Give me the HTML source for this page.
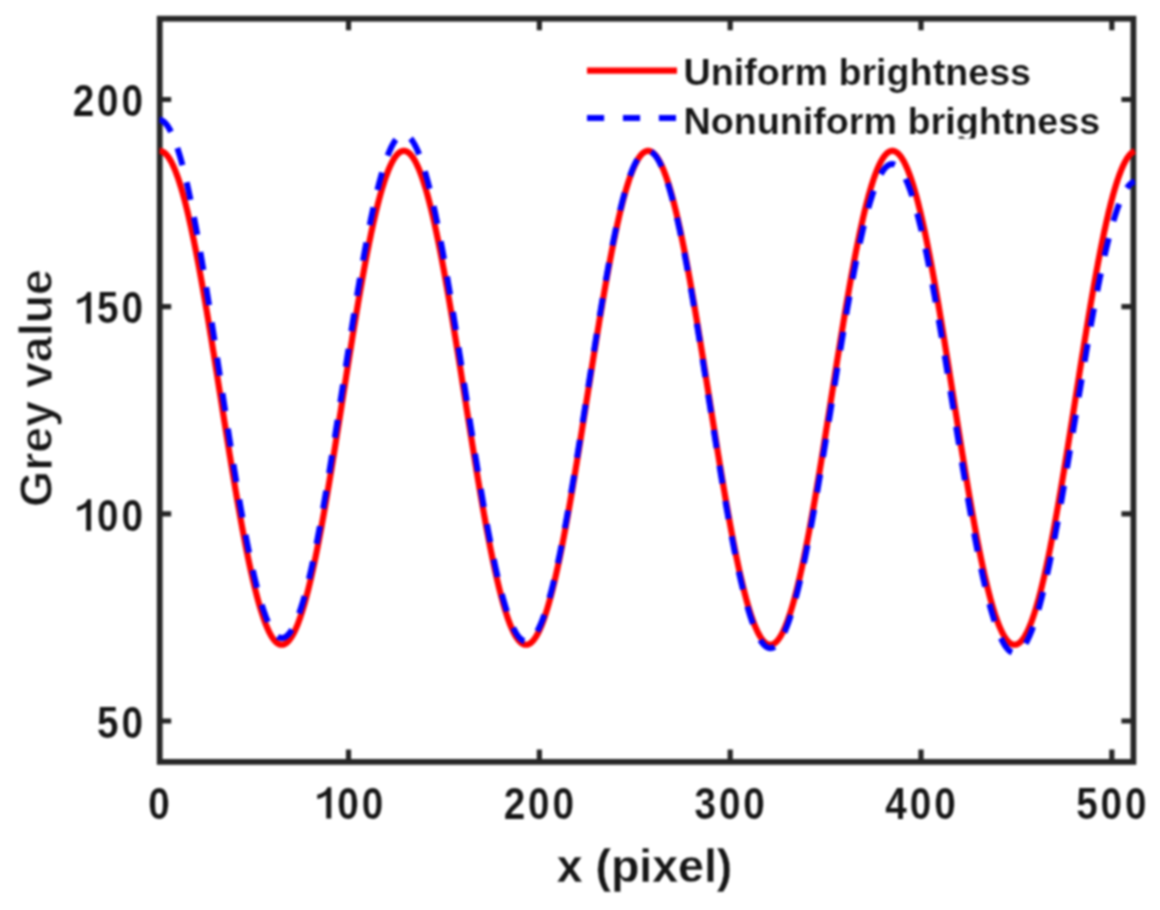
<!DOCTYPE html>
<html><head><meta charset="utf-8"><style>
html,body{margin:0;padding:0;background:#fff;}
body{width:1160px;height:910px;overflow:hidden;}
svg{display:block;}
text{font-family:"Liberation Sans",sans-serif;font-weight:bold;fill:#161616;stroke:#fff;paint-order:fill stroke;}
.tk text{stroke-width:0.15px;} .lb{stroke-width:0.3px;} .yl{stroke-width:0.9px;} .lg text{stroke-width:0.2px;}
</style></head><body>
<svg width="1160" height="910" viewBox="0 0 1160 910">
<defs><filter id="bl" x="0" y="0" width="1" height="1" color-interpolation-filters="sRGB"><feGaussianBlur stdDeviation="1.0"/></filter><clipPath id="lgclip"><rect x="600" y="95" width="560" height="43.5"/></clipPath></defs>
<g filter="url(#bl)">
<rect width="1160" height="910" fill="#fff"/>
<g stroke="#262626" fill="none">
<rect x="159.7" y="18.7" width="973.70" height="743.20" stroke-width="5.8"/>
<path d="M348.53,761.9V749.4M348.53,18.7V30.2M539.36,761.9V749.4M539.36,18.7V30.2M730.19,761.9V749.4M730.19,18.7V30.2M921.02,761.9V749.4M921.02,18.7V30.2M1111.85,761.9V749.4M1111.85,18.7V30.2M159.7,721.00H171.2M1133.4,721.00H1121.4M159.7,513.83H171.2M1133.4,513.83H1121.4M159.7,306.66H171.2M1133.4,306.66H1121.4M159.7,99.50H171.2M1133.4,99.50H1121.4" stroke-width="5.2"/>
</g>
<g class="tk" font-size="44">
<text transform="translate(148.14,818.60) scale(0.88,1)">0</text><path transform="translate(312.87,818.60)" d="M13.4,0H18.4V-31.4H14.6C13.6,-27.8 9.5,-25 4.4,-24V-19.6C8,-20.2 11,-21.6 13.4,-23.6Z" fill="#161616"/><text transform="translate(337.27,818.60) scale(0.88,1)">0</text><text transform="translate(361.67,818.60) scale(0.88,1)">0</text><text transform="translate(503.70,818.60) scale(0.88,1)">2</text><text transform="translate(528.10,818.60) scale(0.88,1)">0</text><text transform="translate(552.50,818.60) scale(0.88,1)">0</text><text transform="translate(694.53,818.60) scale(0.88,1)">3</text><text transform="translate(718.93,818.60) scale(0.88,1)">0</text><text transform="translate(743.33,818.60) scale(0.88,1)">0</text><text transform="translate(885.36,818.60) scale(0.88,1)">4</text><text transform="translate(909.76,818.60) scale(0.88,1)">0</text><text transform="translate(934.16,818.60) scale(0.88,1)">0</text><text transform="translate(1076.19,818.60) scale(0.88,1)">5</text><text transform="translate(1100.59,818.60) scale(0.88,1)">0</text><text transform="translate(1124.99,818.60) scale(0.88,1)">0</text>
<text transform="translate(97.10,737.79) scale(0.88,1)">5</text><text transform="translate(121.50,737.79) scale(0.88,1)">0</text><path transform="translate(72.70,530.63)" d="M13.4,0H18.4V-31.4H14.6C13.6,-27.8 9.5,-25 4.4,-24V-19.6C8,-20.2 11,-21.6 13.4,-23.6Z" fill="#161616"/><text transform="translate(97.10,530.63) scale(0.88,1)">0</text><text transform="translate(121.50,530.63) scale(0.88,1)">0</text><path transform="translate(72.70,323.46)" d="M13.4,0H18.4V-31.4H14.6C13.6,-27.8 9.5,-25 4.4,-24V-19.6C8,-20.2 11,-21.6 13.4,-23.6Z" fill="#161616"/><text transform="translate(97.10,323.46) scale(0.88,1)">5</text><text transform="translate(121.50,323.46) scale(0.88,1)">0</text><text transform="translate(72.70,116.30) scale(0.88,1)">2</text><text transform="translate(97.10,116.30) scale(0.88,1)">0</text><text transform="translate(121.50,116.30) scale(0.88,1)">0</text>
</g>
<text class="lb" x="644.5" y="881.5" font-size="46.5" text-anchor="middle">x (pixel)</text>
<text class="yl" transform="translate(51.5,388) rotate(-90)" font-size="46.5" text-anchor="middle">Grey value</text>
<path d="M159.61,150.88 L160.09,150.90 L160.56,150.95 L161.04,151.04 L161.52,151.17 L161.99,151.34 L162.47,151.55 L162.95,151.79 L163.42,152.07 L163.90,152.38 L164.38,152.73 L164.86,153.12 L165.33,153.55 L165.81,154.01 L166.29,154.51 L166.76,155.05 L167.24,155.62 L167.72,156.23 L168.20,156.88 L168.67,157.56 L169.15,158.28 L169.63,159.03 L170.10,159.82 L170.58,160.65 L171.06,161.51 L171.54,162.41 L172.01,163.34 L172.49,164.31 L172.97,165.31 L173.44,166.35 L173.92,167.42 L174.40,168.53 L174.87,169.67 L175.35,170.85 L175.83,172.06 L176.31,173.31 L176.78,174.59 L177.26,175.90 L177.74,177.24 L178.21,178.62 L178.69,180.04 L179.17,181.48 L179.65,182.96 L180.12,184.47 L180.60,186.01 L181.08,187.58 L181.55,189.19 L182.03,190.83 L182.51,192.49 L182.98,194.19 L183.46,195.92 L183.94,197.68 L184.42,199.47 L184.89,201.29 L185.37,203.14 L185.85,205.02 L186.32,206.93 L186.80,208.87 L187.28,210.83 L187.76,212.83 L188.23,214.85 L188.71,216.90 L189.19,218.97 L189.66,221.07 L190.14,223.20 L190.62,225.36 L191.10,227.54 L191.57,229.75 L192.05,231.98 L192.53,234.24 L193.00,236.52 L193.48,238.83 L193.96,241.16 L194.43,243.51 L194.91,245.89 L195.39,248.29 L195.87,250.72 L196.34,253.16 L196.82,255.63 L197.30,258.12 L197.77,260.62 L198.25,263.15 L198.73,265.70 L199.21,268.28 L199.68,270.86 L200.16,273.47 L200.64,276.10 L201.11,278.75 L201.59,281.41 L202.07,284.09 L202.55,286.79 L203.02,289.51 L203.50,292.24 L203.98,294.98 L204.45,297.75 L204.93,300.52 L205.41,303.32 L205.88,306.12 L206.36,308.94 L206.84,311.78 L207.32,314.63 L207.79,317.49 L208.27,320.36 L208.75,323.24 L209.22,326.13 L209.70,329.04 L210.18,331.96 L210.66,334.88 L211.13,337.82 L211.61,340.76 L212.09,343.71 L212.56,346.67 L213.04,349.64 L213.52,352.62 L213.99,355.60 L214.47,358.59 L214.95,361.58 L215.43,364.58 L215.90,367.59 L216.38,370.60 L216.86,373.61 L217.33,376.63 L217.81,379.65 L218.29,382.68 L218.77,385.70 L219.24,388.73 L219.72,391.76 L220.20,394.79 L220.67,397.82 L221.15,400.85 L221.63,403.88 L222.11,406.91 L222.58,409.93 L223.06,412.96 L223.54,415.98 L224.01,419.00 L224.49,422.02 L224.97,425.04 L225.44,428.05 L225.92,431.05 L226.40,434.05 L226.88,437.05 L227.35,440.04 L227.83,443.02 L228.31,445.99 L228.78,448.96 L229.26,451.92 L229.74,454.88 L230.22,457.82 L230.69,460.75 L231.17,463.68 L231.65,466.60 L232.12,469.50 L232.60,472.40 L233.08,475.28 L233.55,478.15 L234.03,481.01 L234.51,483.86 L234.99,486.69 L235.46,489.51 L235.94,492.32 L236.42,495.11 L236.89,497.89 L237.37,500.65 L237.85,503.40 L238.33,506.13 L238.80,508.84 L239.28,511.54 L239.76,514.22 L240.23,516.89 L240.71,519.53 L241.19,522.16 L241.67,524.77 L242.14,527.36 L242.62,529.93 L243.10,532.48 L243.57,535.01 L244.05,537.52 L244.53,540.01 L245.00,542.47 L245.48,544.92 L245.96,547.34 L246.44,549.74 L246.91,552.12 L247.39,554.48 L247.87,556.81 L248.34,559.11 L248.82,561.40 L249.30,563.65 L249.78,565.89 L250.25,568.09 L250.73,570.28 L251.21,572.43 L251.68,574.56 L252.16,576.66 L252.64,578.74 L253.12,580.79 L253.59,582.81 L254.07,584.80 L254.55,586.77 L255.02,588.71 L255.50,590.61 L255.98,592.49 L256.45,594.34 L256.93,596.16 L257.41,597.95 L257.89,599.71 L258.36,601.44 L258.84,603.14 L259.32,604.81 L259.79,606.45 L260.27,608.05 L260.75,609.63 L261.23,611.17 L261.70,612.68 L262.18,614.15 L262.66,615.60 L263.13,617.01 L263.61,618.39 L264.09,619.74 L264.56,621.05 L265.04,622.33 L265.52,623.57 L266.00,624.78 L266.47,625.96 L266.95,627.10 L267.43,628.21 L267.90,629.28 L268.38,630.32 L268.86,631.33 L269.34,632.29 L269.81,633.23 L270.29,634.13 L270.77,634.99 L271.24,635.81 L271.72,636.60 L272.20,637.36 L272.68,638.08 L273.15,638.76 L273.63,639.40 L274.11,640.01 L274.58,640.59 L275.06,641.12 L275.54,641.62 L276.01,642.09 L276.49,642.51 L276.97,642.90 L277.45,643.25 L277.92,643.57 L278.40,643.85 L278.88,644.09 L279.35,644.29 L279.83,644.46 L280.31,644.59 L280.79,644.68 L281.26,644.74 L281.74,644.76 L282.22,644.74 L282.69,644.68 L283.17,644.59 L283.65,644.46 L284.12,644.29 L284.60,644.09 L285.08,643.85 L285.56,643.57 L286.03,643.25 L286.51,642.90 L286.99,642.51 L287.46,642.09 L287.94,641.62 L288.42,641.12 L288.90,640.59 L289.37,640.01 L289.85,639.40 L290.33,638.76 L290.80,638.08 L291.28,637.36 L291.76,636.60 L292.24,635.81 L292.71,634.99 L293.19,634.13 L293.67,633.23 L294.14,632.29 L294.62,631.33 L295.10,630.32 L295.57,629.28 L296.05,628.21 L296.53,627.10 L297.01,625.96 L297.48,624.78 L297.96,623.57 L298.44,622.33 L298.91,621.05 L299.39,619.74 L299.87,618.39 L300.35,617.01 L300.82,615.60 L301.30,614.15 L301.78,612.68 L302.25,611.17 L302.73,609.63 L303.21,608.05 L303.68,606.45 L304.16,604.81 L304.64,603.14 L305.12,601.44 L305.59,599.71 L306.07,597.95 L306.55,596.16 L307.02,594.34 L307.50,592.49 L307.98,590.61 L308.46,588.71 L308.93,586.77 L309.41,584.80 L309.89,582.81 L310.36,580.79 L310.84,578.74 L311.32,576.66 L311.80,574.56 L312.27,572.43 L312.75,570.28 L313.23,568.09 L313.70,565.89 L314.18,563.65 L314.66,561.40 L315.13,559.11 L315.61,556.81 L316.09,554.48 L316.57,552.12 L317.04,549.74 L317.52,547.34 L318.00,544.92 L318.47,542.47 L318.95,540.01 L319.43,537.52 L319.91,535.01 L320.38,532.48 L320.86,529.93 L321.34,527.36 L321.81,524.77 L322.29,522.16 L322.77,519.53 L323.25,516.89 L323.72,514.22 L324.20,511.54 L324.68,508.84 L325.15,506.13 L325.63,503.40 L326.11,500.65 L326.58,497.89 L327.06,495.11 L327.54,492.32 L328.02,489.51 L328.49,486.69 L328.97,483.86 L329.45,481.01 L329.92,478.15 L330.40,475.28 L330.88,472.40 L331.36,469.50 L331.83,466.60 L332.31,463.68 L332.79,460.75 L333.26,457.82 L333.74,454.88 L334.22,451.92 L334.69,448.96 L335.17,445.99 L335.65,443.02 L336.13,440.04 L336.60,437.05 L337.08,434.05 L337.56,431.05 L338.03,428.05 L338.51,425.04 L338.99,422.02 L339.47,419.00 L339.94,415.98 L340.42,412.96 L340.90,409.93 L341.37,406.91 L341.85,403.88 L342.33,400.85 L342.81,397.82 L343.28,394.79 L343.76,391.76 L344.24,388.73 L344.71,385.70 L345.19,382.68 L345.67,379.65 L346.14,376.63 L346.62,373.61 L347.10,370.60 L347.58,367.59 L348.05,364.58 L348.53,361.58 L349.01,358.59 L349.48,355.60 L349.96,352.62 L350.44,349.64 L350.92,346.67 L351.39,343.71 L351.87,340.76 L352.35,337.82 L352.82,334.88 L353.30,331.96 L353.78,329.04 L354.25,326.13 L354.73,323.24 L355.21,320.36 L355.69,317.49 L356.16,314.63 L356.64,311.78 L357.12,308.94 L357.59,306.12 L358.07,303.32 L358.55,300.52 L359.03,297.75 L359.50,294.98 L359.98,292.24 L360.46,289.51 L360.93,286.79 L361.41,284.09 L361.89,281.41 L362.37,278.75 L362.84,276.10 L363.32,273.47 L363.80,270.86 L364.27,268.28 L364.75,265.70 L365.23,263.15 L365.70,260.62 L366.18,258.12 L366.66,255.63 L367.14,253.16 L367.61,250.72 L368.09,248.29 L368.57,245.89 L369.04,243.51 L369.52,241.16 L370.00,238.83 L370.48,236.52 L370.95,234.24 L371.43,231.98 L371.91,229.75 L372.38,227.54 L372.86,225.36 L373.34,223.20 L373.81,221.07 L374.29,218.97 L374.77,216.90 L375.25,214.85 L375.72,212.83 L376.20,210.83 L376.68,208.87 L377.15,206.93 L377.63,205.02 L378.11,203.14 L378.59,201.29 L379.06,199.47 L379.54,197.68 L380.02,195.92 L380.49,194.19 L380.97,192.49 L381.45,190.83 L381.93,189.19 L382.40,187.58 L382.88,186.01 L383.36,184.47 L383.83,182.96 L384.31,181.48 L384.79,180.04 L385.26,178.62 L385.74,177.24 L386.22,175.90 L386.70,174.59 L387.17,173.31 L387.65,172.06 L388.13,170.85 L388.60,169.67 L389.08,168.53 L389.56,167.42 L390.04,166.35 L390.51,165.31 L390.99,164.31 L391.47,163.34 L391.94,162.41 L392.42,161.51 L392.90,160.65 L393.38,159.82 L393.85,159.03 L394.33,158.28 L394.81,157.56 L395.28,156.88 L395.76,156.23 L396.24,155.62 L396.71,155.05 L397.19,154.51 L397.67,154.01 L398.15,153.55 L398.62,153.12 L399.10,152.73 L399.58,152.38 L400.05,152.07 L400.53,151.79 L401.01,151.55 L401.49,151.34 L401.96,151.17 L402.44,151.04 L402.92,150.95 L403.39,150.90 L403.87,150.88 L404.35,150.90 L404.82,150.95 L405.30,151.04 L405.78,151.17 L406.26,151.34 L406.73,151.55 L407.21,151.79 L407.69,152.07 L408.16,152.38 L408.64,152.73 L409.12,153.12 L409.60,153.55 L410.07,154.01 L410.55,154.51 L411.03,155.05 L411.50,155.62 L411.98,156.23 L412.46,156.88 L412.94,157.56 L413.41,158.28 L413.89,159.03 L414.37,159.82 L414.84,160.65 L415.32,161.51 L415.80,162.41 L416.27,163.34 L416.75,164.31 L417.23,165.31 L417.71,166.35 L418.18,167.42 L418.66,168.53 L419.14,169.67 L419.61,170.85 L420.09,172.06 L420.57,173.31 L421.05,174.59 L421.52,175.90 L422.00,177.24 L422.48,178.62 L422.95,180.04 L423.43,181.48 L423.91,182.96 L424.38,184.47 L424.86,186.01 L425.34,187.58 L425.82,189.19 L426.29,190.83 L426.77,192.49 L427.25,194.19 L427.72,195.92 L428.20,197.68 L428.68,199.47 L429.16,201.29 L429.63,203.14 L430.11,205.02 L430.59,206.93 L431.06,208.87 L431.54,210.83 L432.02,212.83 L432.50,214.85 L432.97,216.90 L433.45,218.97 L433.93,221.07 L434.40,223.20 L434.88,225.36 L435.36,227.54 L435.83,229.75 L436.31,231.98 L436.79,234.24 L437.27,236.52 L437.74,238.83 L438.22,241.16 L438.70,243.51 L439.17,245.89 L439.65,248.29 L440.13,250.72 L440.61,253.16 L441.08,255.63 L441.56,258.12 L442.04,260.62 L442.51,263.15 L442.99,265.70 L443.47,268.28 L443.94,270.86 L444.42,273.47 L444.90,276.10 L445.38,278.75 L445.85,281.41 L446.33,284.09 L446.81,286.79 L447.28,289.51 L447.76,292.24 L448.24,294.98 L448.72,297.75 L449.19,300.52 L449.67,303.32 L450.15,306.12 L450.62,308.94 L451.10,311.78 L451.58,314.63 L452.06,317.49 L452.53,320.36 L453.01,323.24 L453.49,326.13 L453.96,329.04 L454.44,331.96 L454.92,334.88 L455.39,337.82 L455.87,340.76 L456.35,343.71 L456.83,346.67 L457.30,349.64 L457.78,352.62 L458.26,355.60 L458.73,358.59 L459.21,361.58 L459.69,364.58 L460.17,367.59 L460.64,370.60 L461.12,373.61 L461.60,376.63 L462.07,379.65 L462.55,382.68 L463.03,385.70 L463.51,388.73 L463.98,391.76 L464.46,394.79 L464.94,397.82 L465.41,400.85 L465.89,403.88 L466.37,406.91 L466.84,409.93 L467.32,412.96 L467.80,415.98 L468.28,419.00 L468.75,422.02 L469.23,425.04 L469.71,428.05 L470.18,431.05 L470.66,434.05 L471.14,437.05 L471.62,440.04 L472.09,443.02 L472.57,445.99 L473.05,448.96 L473.52,451.92 L474.00,454.88 L474.48,457.82 L474.95,460.75 L475.43,463.68 L475.91,466.60 L476.39,469.50 L476.86,472.40 L477.34,475.28 L477.82,478.15 L478.29,481.01 L478.77,483.86 L479.25,486.69 L479.73,489.51 L480.20,492.32 L480.68,495.11 L481.16,497.89 L481.63,500.65 L482.11,503.40 L482.59,506.13 L483.07,508.84 L483.54,511.54 L484.02,514.22 L484.50,516.89 L484.97,519.53 L485.45,522.16 L485.93,524.77 L486.40,527.36 L486.88,529.93 L487.36,532.48 L487.84,535.01 L488.31,537.52 L488.79,540.01 L489.27,542.47 L489.74,544.92 L490.22,547.34 L490.70,549.74 L491.18,552.12 L491.65,554.48 L492.13,556.81 L492.61,559.11 L493.08,561.40 L493.56,563.65 L494.04,565.89 L494.51,568.09 L494.99,570.28 L495.47,572.43 L495.95,574.56 L496.42,576.66 L496.90,578.74 L497.38,580.79 L497.85,582.81 L498.33,584.80 L498.81,586.77 L499.29,588.71 L499.76,590.61 L500.24,592.49 L500.72,594.34 L501.19,596.16 L501.67,597.95 L502.15,599.71 L502.63,601.44 L503.10,603.14 L503.58,604.81 L504.06,606.45 L504.53,608.05 L505.01,609.63 L505.49,611.17 L505.96,612.68 L506.44,614.15 L506.92,615.60 L507.40,617.01 L507.87,618.39 L508.35,619.74 L508.83,621.05 L509.30,622.33 L509.78,623.57 L510.26,624.78 L510.74,625.96 L511.21,627.10 L511.69,628.21 L512.17,629.28 L512.64,630.32 L513.12,631.33 L513.60,632.29 L514.08,633.23 L514.55,634.13 L515.03,634.99 L515.51,635.81 L515.98,636.60 L516.46,637.36 L516.94,638.08 L517.41,638.76 L517.89,639.40 L518.37,640.01 L518.85,640.59 L519.32,641.12 L519.80,641.62 L520.28,642.09 L520.75,642.51 L521.23,642.90 L521.71,643.25 L522.19,643.57 L522.66,643.85 L523.14,644.09 L523.62,644.29 L524.09,644.46 L524.57,644.59 L525.05,644.68 L525.52,644.74 L526.00,644.76 L526.48,644.74 L526.96,644.68 L527.43,644.59 L527.91,644.46 L528.39,644.29 L528.86,644.09 L529.34,643.85 L529.82,643.57 L530.30,643.25 L530.77,642.90 L531.25,642.51 L531.73,642.09 L532.20,641.62 L532.68,641.12 L533.16,640.59 L533.64,640.01 L534.11,639.40 L534.59,638.76 L535.07,638.08 L535.54,637.36 L536.02,636.60 L536.50,635.81 L536.97,634.99 L537.45,634.13 L537.93,633.23 L538.41,632.29 L538.88,631.33 L539.36,630.32 L539.84,629.28 L540.31,628.21 L540.79,627.10 L541.27,625.96 L541.75,624.78 L542.22,623.57 L542.70,622.33 L543.18,621.05 L543.65,619.74 L544.13,618.39 L544.61,617.01 L545.08,615.60 L545.56,614.15 L546.04,612.68 L546.52,611.17 L546.99,609.63 L547.47,608.05 L547.95,606.45 L548.42,604.81 L548.90,603.14 L549.38,601.44 L549.86,599.71 L550.33,597.95 L550.81,596.16 L551.29,594.34 L551.76,592.49 L552.24,590.61 L552.72,588.71 L553.20,586.77 L553.67,584.80 L554.15,582.81 L554.63,580.79 L555.10,578.74 L555.58,576.66 L556.06,574.56 L556.53,572.43 L557.01,570.28 L557.49,568.09 L557.97,565.89 L558.44,563.65 L558.92,561.40 L559.40,559.11 L559.87,556.81 L560.35,554.48 L560.83,552.12 L561.31,549.74 L561.78,547.34 L562.26,544.92 L562.74,542.47 L563.21,540.01 L563.69,537.52 L564.17,535.01 L564.64,532.48 L565.12,529.93 L565.60,527.36 L566.08,524.77 L566.55,522.16 L567.03,519.53 L567.51,516.89 L567.98,514.22 L568.46,511.54 L568.94,508.84 L569.42,506.13 L569.89,503.40 L570.37,500.65 L570.85,497.89 L571.32,495.11 L571.80,492.32 L572.28,489.51 L572.76,486.69 L573.23,483.86 L573.71,481.01 L574.19,478.15 L574.66,475.28 L575.14,472.40 L575.62,469.50 L576.09,466.60 L576.57,463.68 L577.05,460.75 L577.53,457.82 L578.00,454.88 L578.48,451.92 L578.96,448.96 L579.43,445.99 L579.91,443.02 L580.39,440.04 L580.87,437.05 L581.34,434.05 L581.82,431.05 L582.30,428.05 L582.77,425.04 L583.25,422.02 L583.73,419.00 L584.21,415.98 L584.68,412.96 L585.16,409.93 L585.64,406.91 L586.11,403.88 L586.59,400.85 L587.07,397.82 L587.54,394.79 L588.02,391.76 L588.50,388.73 L588.98,385.70 L589.45,382.68 L589.93,379.65 L590.41,376.63 L590.88,373.61 L591.36,370.60 L591.84,367.59 L592.32,364.58 L592.79,361.58 L593.27,358.59 L593.75,355.60 L594.22,352.62 L594.70,349.64 L595.18,346.67 L595.65,343.71 L596.13,340.76 L596.61,337.82 L597.09,334.88 L597.56,331.96 L598.04,329.04 L598.52,326.13 L598.99,323.24 L599.47,320.36 L599.95,317.49 L600.43,314.63 L600.90,311.78 L601.38,308.94 L601.86,306.12 L602.33,303.32 L602.81,300.52 L603.29,297.75 L603.77,294.98 L604.24,292.24 L604.72,289.51 L605.20,286.79 L605.67,284.09 L606.15,281.41 L606.63,278.75 L607.10,276.10 L607.58,273.47 L608.06,270.86 L608.54,268.28 L609.01,265.70 L609.49,263.15 L609.97,260.62 L610.44,258.12 L610.92,255.63 L611.40,253.16 L611.88,250.72 L612.35,248.29 L612.83,245.89 L613.31,243.51 L613.78,241.16 L614.26,238.83 L614.74,236.52 L615.21,234.24 L615.69,231.98 L616.17,229.75 L616.65,227.54 L617.12,225.36 L617.60,223.20 L618.08,221.07 L618.55,218.97 L619.03,216.90 L619.51,214.85 L619.99,212.83 L620.46,210.83 L620.94,208.87 L621.42,206.93 L621.89,205.02 L622.37,203.14 L622.85,201.29 L623.33,199.47 L623.80,197.68 L624.28,195.92 L624.76,194.19 L625.23,192.49 L625.71,190.83 L626.19,189.19 L626.66,187.58 L627.14,186.01 L627.62,184.47 L628.10,182.96 L628.57,181.48 L629.05,180.04 L629.53,178.62 L630.00,177.24 L630.48,175.90 L630.96,174.59 L631.44,173.31 L631.91,172.06 L632.39,170.85 L632.87,169.67 L633.34,168.53 L633.82,167.42 L634.30,166.35 L634.78,165.31 L635.25,164.31 L635.73,163.34 L636.21,162.41 L636.68,161.51 L637.16,160.65 L637.64,159.82 L638.11,159.03 L638.59,158.28 L639.07,157.56 L639.55,156.88 L640.02,156.23 L640.50,155.62 L640.98,155.05 L641.45,154.51 L641.93,154.01 L642.41,153.55 L642.89,153.12 L643.36,152.73 L643.84,152.38 L644.32,152.07 L644.79,151.79 L645.27,151.55 L645.75,151.34 L646.22,151.17 L646.70,151.04 L647.18,150.95 L647.66,150.90 L648.13,150.88 L648.61,150.90 L649.09,150.95 L649.56,151.04 L650.04,151.17 L650.52,151.34 L651.00,151.55 L651.47,151.79 L651.95,152.07 L652.43,152.38 L652.90,152.73 L653.38,153.12 L653.86,153.55 L654.34,154.01 L654.81,154.51 L655.29,155.05 L655.77,155.62 L656.24,156.23 L656.72,156.88 L657.20,157.56 L657.67,158.28 L658.15,159.03 L658.63,159.82 L659.11,160.65 L659.58,161.51 L660.06,162.41 L660.54,163.34 L661.01,164.31 L661.49,165.31 L661.97,166.35 L662.45,167.42 L662.92,168.53 L663.40,169.67 L663.88,170.85 L664.35,172.06 L664.83,173.31 L665.31,174.59 L665.78,175.90 L666.26,177.24 L666.74,178.62 L667.22,180.04 L667.69,181.48 L668.17,182.96 L668.65,184.47 L669.12,186.01 L669.60,187.58 L670.08,189.19 L670.56,190.83 L671.03,192.49 L671.51,194.19 L671.99,195.92 L672.46,197.68 L672.94,199.47 L673.42,201.29 L673.90,203.14 L674.37,205.02 L674.85,206.93 L675.33,208.87 L675.80,210.83 L676.28,212.83 L676.76,214.85 L677.23,216.90 L677.71,218.97 L678.19,221.07 L678.67,223.20 L679.14,225.36 L679.62,227.54 L680.10,229.75 L680.57,231.98 L681.05,234.24 L681.53,236.52 L682.01,238.83 L682.48,241.16 L682.96,243.51 L683.44,245.89 L683.91,248.29 L684.39,250.72 L684.87,253.16 L685.34,255.63 L685.82,258.12 L686.30,260.62 L686.78,263.15 L687.25,265.70 L687.73,268.28 L688.21,270.86 L688.68,273.47 L689.16,276.10 L689.64,278.75 L690.12,281.41 L690.59,284.09 L691.07,286.79 L691.55,289.51 L692.02,292.24 L692.50,294.98 L692.98,297.75 L693.46,300.52 L693.93,303.32 L694.41,306.12 L694.89,308.94 L695.36,311.78 L695.84,314.63 L696.32,317.49 L696.79,320.36 L697.27,323.24 L697.75,326.13 L698.23,329.04 L698.70,331.96 L699.18,334.88 L699.66,337.82 L700.13,340.76 L700.61,343.71 L701.09,346.67 L701.57,349.64 L702.04,352.62 L702.52,355.60 L703.00,358.59 L703.47,361.58 L703.95,364.58 L704.43,367.59 L704.91,370.60 L705.38,373.61 L705.86,376.63 L706.34,379.65 L706.81,382.68 L707.29,385.70 L707.77,388.73 L708.24,391.76 L708.72,394.79 L709.20,397.82 L709.68,400.85 L710.15,403.88 L710.63,406.91 L711.11,409.93 L711.58,412.96 L712.06,415.98 L712.54,419.00 L713.02,422.02 L713.49,425.04 L713.97,428.05 L714.45,431.05 L714.92,434.05 L715.40,437.05 L715.88,440.04 L716.35,443.02 L716.83,445.99 L717.31,448.96 L717.79,451.92 L718.26,454.88 L718.74,457.82 L719.22,460.75 L719.69,463.68 L720.17,466.60 L720.65,469.50 L721.13,472.40 L721.60,475.28 L722.08,478.15 L722.56,481.01 L723.03,483.86 L723.51,486.69 L723.99,489.51 L724.47,492.32 L724.94,495.11 L725.42,497.89 L725.90,500.65 L726.37,503.40 L726.85,506.13 L727.33,508.84 L727.80,511.54 L728.28,514.22 L728.76,516.89 L729.24,519.53 L729.71,522.16 L730.19,524.77 L730.67,527.36 L731.14,529.93 L731.62,532.48 L732.10,535.01 L732.58,537.52 L733.05,540.01 L733.53,542.47 L734.01,544.92 L734.48,547.34 L734.96,549.74 L735.44,552.12 L735.91,554.48 L736.39,556.81 L736.87,559.11 L737.35,561.40 L737.82,563.65 L738.30,565.89 L738.78,568.09 L739.25,570.28 L739.73,572.43 L740.21,574.56 L740.69,576.66 L741.16,578.74 L741.64,580.79 L742.12,582.81 L742.59,584.80 L743.07,586.77 L743.55,588.71 L744.03,590.61 L744.50,592.49 L744.98,594.34 L745.46,596.16 L745.93,597.95 L746.41,599.71 L746.89,601.44 L747.36,603.14 L747.84,604.81 L748.32,606.45 L748.80,608.05 L749.27,609.63 L749.75,611.17 L750.23,612.68 L750.70,614.15 L751.18,615.60 L751.66,617.01 L752.14,618.39 L752.61,619.74 L753.09,621.05 L753.57,622.33 L754.04,623.57 L754.52,624.78 L755.00,625.96 L755.47,627.10 L755.95,628.21 L756.43,629.28 L756.91,630.32 L757.38,631.33 L757.86,632.29 L758.34,633.23 L758.81,634.13 L759.29,634.99 L759.77,635.81 L760.25,636.60 L760.72,637.36 L761.20,638.08 L761.68,638.76 L762.15,639.40 L762.63,640.01 L763.11,640.59 L763.59,641.12 L764.06,641.62 L764.54,642.09 L765.02,642.51 L765.49,642.90 L765.97,643.25 L766.45,643.57 L766.92,643.85 L767.40,644.09 L767.88,644.29 L768.36,644.46 L768.83,644.59 L769.31,644.68 L769.79,644.74 L770.26,644.76 L770.74,644.74 L771.22,644.68 L771.70,644.59 L772.17,644.46 L772.65,644.29 L773.13,644.09 L773.60,643.85 L774.08,643.57 L774.56,643.25 L775.04,642.90 L775.51,642.51 L775.99,642.09 L776.47,641.62 L776.94,641.12 L777.42,640.59 L777.90,640.01 L778.37,639.40 L778.85,638.76 L779.33,638.08 L779.81,637.36 L780.28,636.60 L780.76,635.81 L781.24,634.99 L781.71,634.13 L782.19,633.23 L782.67,632.29 L783.15,631.33 L783.62,630.32 L784.10,629.28 L784.58,628.21 L785.05,627.10 L785.53,625.96 L786.01,624.78 L786.48,623.57 L786.96,622.33 L787.44,621.05 L787.92,619.74 L788.39,618.39 L788.87,617.01 L789.35,615.60 L789.82,614.15 L790.30,612.68 L790.78,611.17 L791.26,609.63 L791.73,608.05 L792.21,606.45 L792.69,604.81 L793.16,603.14 L793.64,601.44 L794.12,599.71 L794.60,597.95 L795.07,596.16 L795.55,594.34 L796.03,592.49 L796.50,590.61 L796.98,588.71 L797.46,586.77 L797.93,584.80 L798.41,582.81 L798.89,580.79 L799.37,578.74 L799.84,576.66 L800.32,574.56 L800.80,572.43 L801.27,570.28 L801.75,568.09 L802.23,565.89 L802.71,563.65 L803.18,561.40 L803.66,559.11 L804.14,556.81 L804.61,554.48 L805.09,552.12 L805.57,549.74 L806.04,547.34 L806.52,544.92 L807.00,542.47 L807.48,540.01 L807.95,537.52 L808.43,535.01 L808.91,532.48 L809.38,529.93 L809.86,527.36 L810.34,524.77 L810.82,522.16 L811.29,519.53 L811.77,516.89 L812.25,514.22 L812.72,511.54 L813.20,508.84 L813.68,506.13 L814.16,503.40 L814.63,500.65 L815.11,497.89 L815.59,495.11 L816.06,492.32 L816.54,489.51 L817.02,486.69 L817.49,483.86 L817.97,481.01 L818.45,478.15 L818.93,475.28 L819.40,472.40 L819.88,469.50 L820.36,466.60 L820.83,463.68 L821.31,460.75 L821.79,457.82 L822.27,454.88 L822.74,451.92 L823.22,448.96 L823.70,445.99 L824.17,443.02 L824.65,440.04 L825.13,437.05 L825.61,434.05 L826.08,431.05 L826.56,428.05 L827.04,425.04 L827.51,422.02 L827.99,419.00 L828.47,415.98 L828.94,412.96 L829.42,409.93 L829.90,406.91 L830.38,403.88 L830.85,400.85 L831.33,397.82 L831.81,394.79 L832.28,391.76 L832.76,388.73 L833.24,385.70 L833.72,382.68 L834.19,379.65 L834.67,376.63 L835.15,373.61 L835.62,370.60 L836.10,367.59 L836.58,364.58 L837.05,361.58 L837.53,358.59 L838.01,355.60 L838.49,352.62 L838.96,349.64 L839.44,346.67 L839.92,343.71 L840.39,340.76 L840.87,337.82 L841.35,334.88 L841.83,331.96 L842.30,329.04 L842.78,326.13 L843.26,323.24 L843.73,320.36 L844.21,317.49 L844.69,314.63 L845.17,311.78 L845.64,308.94 L846.12,306.12 L846.60,303.32 L847.07,300.52 L847.55,297.75 L848.03,294.98 L848.50,292.24 L848.98,289.51 L849.46,286.79 L849.94,284.09 L850.41,281.41 L850.89,278.75 L851.37,276.10 L851.84,273.47 L852.32,270.86 L852.80,268.28 L853.28,265.70 L853.75,263.15 L854.23,260.62 L854.71,258.12 L855.18,255.63 L855.66,253.16 L856.14,250.72 L856.61,248.29 L857.09,245.89 L857.57,243.51 L858.05,241.16 L858.52,238.83 L859.00,236.52 L859.48,234.24 L859.95,231.98 L860.43,229.75 L860.91,227.54 L861.39,225.36 L861.86,223.20 L862.34,221.07 L862.82,218.97 L863.29,216.90 L863.77,214.85 L864.25,212.83 L864.73,210.83 L865.20,208.87 L865.68,206.93 L866.16,205.02 L866.63,203.14 L867.11,201.29 L867.59,199.47 L868.06,197.68 L868.54,195.92 L869.02,194.19 L869.50,192.49 L869.97,190.83 L870.45,189.19 L870.93,187.58 L871.40,186.01 L871.88,184.47 L872.36,182.96 L872.84,181.48 L873.31,180.04 L873.79,178.62 L874.27,177.24 L874.74,175.90 L875.22,174.59 L875.70,173.31 L876.17,172.06 L876.65,170.85 L877.13,169.67 L877.61,168.53 L878.08,167.42 L878.56,166.35 L879.04,165.31 L879.51,164.31 L879.99,163.34 L880.47,162.41 L880.95,161.51 L881.42,160.65 L881.90,159.82 L882.38,159.03 L882.85,158.28 L883.33,157.56 L883.81,156.88 L884.29,156.23 L884.76,155.62 L885.24,155.05 L885.72,154.51 L886.19,154.01 L886.67,153.55 L887.15,153.12 L887.62,152.73 L888.10,152.38 L888.58,152.07 L889.06,151.79 L889.53,151.55 L890.01,151.34 L890.49,151.17 L890.96,151.04 L891.44,150.95 L891.92,150.90 L892.40,150.88 L892.87,150.90 L893.35,150.95 L893.83,151.04 L894.30,151.17 L894.78,151.34 L895.26,151.55 L895.74,151.79 L896.21,152.07 L896.69,152.38 L897.17,152.73 L897.64,153.12 L898.12,153.55 L898.60,154.01 L899.07,154.51 L899.55,155.05 L900.03,155.62 L900.51,156.23 L900.98,156.88 L901.46,157.56 L901.94,158.28 L902.41,159.03 L902.89,159.82 L903.37,160.65 L903.85,161.51 L904.32,162.41 L904.80,163.34 L905.28,164.31 L905.75,165.31 L906.23,166.35 L906.71,167.42 L907.18,168.53 L907.66,169.67 L908.14,170.85 L908.62,172.06 L909.09,173.31 L909.57,174.59 L910.05,175.90 L910.52,177.24 L911.00,178.62 L911.48,180.04 L911.96,181.48 L912.43,182.96 L912.91,184.47 L913.39,186.01 L913.86,187.58 L914.34,189.19 L914.82,190.83 L915.30,192.49 L915.77,194.19 L916.25,195.92 L916.73,197.68 L917.20,199.47 L917.68,201.29 L918.16,203.14 L918.63,205.02 L919.11,206.93 L919.59,208.87 L920.07,210.83 L920.54,212.83 L921.02,214.85 L921.50,216.90 L921.97,218.97 L922.45,221.07 L922.93,223.20 L923.41,225.36 L923.88,227.54 L924.36,229.75 L924.84,231.98 L925.31,234.24 L925.79,236.52 L926.27,238.83 L926.74,241.16 L927.22,243.51 L927.70,245.89 L928.18,248.29 L928.65,250.72 L929.13,253.16 L929.61,255.63 L930.08,258.12 L930.56,260.62 L931.04,263.15 L931.52,265.70 L931.99,268.28 L932.47,270.86 L932.95,273.47 L933.42,276.10 L933.90,278.75 L934.38,281.41 L934.86,284.09 L935.33,286.79 L935.81,289.51 L936.29,292.24 L936.76,294.98 L937.24,297.75 L937.72,300.52 L938.19,303.32 L938.67,306.12 L939.15,308.94 L939.63,311.78 L940.10,314.63 L940.58,317.49 L941.06,320.36 L941.53,323.24 L942.01,326.13 L942.49,329.04 L942.97,331.96 L943.44,334.88 L943.92,337.82 L944.40,340.76 L944.87,343.71 L945.35,346.67 L945.83,349.64 L946.30,352.62 L946.78,355.60 L947.26,358.59 L947.74,361.58 L948.21,364.58 L948.69,367.59 L949.17,370.60 L949.64,373.61 L950.12,376.63 L950.60,379.65 L951.08,382.68 L951.55,385.70 L952.03,388.73 L952.51,391.76 L952.98,394.79 L953.46,397.82 L953.94,400.85 L954.42,403.88 L954.89,406.91 L955.37,409.93 L955.85,412.96 L956.32,415.98 L956.80,419.00 L957.28,422.02 L957.75,425.04 L958.23,428.05 L958.71,431.05 L959.19,434.05 L959.66,437.05 L960.14,440.04 L960.62,443.02 L961.09,445.99 L961.57,448.96 L962.05,451.92 L962.53,454.88 L963.00,457.82 L963.48,460.75 L963.96,463.68 L964.43,466.60 L964.91,469.50 L965.39,472.40 L965.87,475.28 L966.34,478.15 L966.82,481.01 L967.30,483.86 L967.77,486.69 L968.25,489.51 L968.73,492.32 L969.20,495.11 L969.68,497.89 L970.16,500.65 L970.64,503.40 L971.11,506.13 L971.59,508.84 L972.07,511.54 L972.54,514.22 L973.02,516.89 L973.50,519.53 L973.98,522.16 L974.45,524.77 L974.93,527.36 L975.41,529.93 L975.88,532.48 L976.36,535.01 L976.84,537.52 L977.31,540.01 L977.79,542.47 L978.27,544.92 L978.75,547.34 L979.22,549.74 L979.70,552.12 L980.18,554.48 L980.65,556.81 L981.13,559.11 L981.61,561.40 L982.09,563.65 L982.56,565.89 L983.04,568.09 L983.52,570.28 L983.99,572.43 L984.47,574.56 L984.95,576.66 L985.43,578.74 L985.90,580.79 L986.38,582.81 L986.86,584.80 L987.33,586.77 L987.81,588.71 L988.29,590.61 L988.76,592.49 L989.24,594.34 L989.72,596.16 L990.20,597.95 L990.67,599.71 L991.15,601.44 L991.63,603.14 L992.10,604.81 L992.58,606.45 L993.06,608.05 L993.54,609.63 L994.01,611.17 L994.49,612.68 L994.97,614.15 L995.44,615.60 L995.92,617.01 L996.40,618.39 L996.87,619.74 L997.35,621.05 L997.83,622.33 L998.31,623.57 L998.78,624.78 L999.26,625.96 L999.74,627.10 L1000.21,628.21 L1000.69,629.28 L1001.17,630.32 L1001.65,631.33 L1002.12,632.29 L1002.60,633.23 L1003.08,634.13 L1003.55,634.99 L1004.03,635.81 L1004.51,636.60 L1004.99,637.36 L1005.46,638.08 L1005.94,638.76 L1006.42,639.40 L1006.89,640.01 L1007.37,640.59 L1007.85,641.12 L1008.32,641.62 L1008.80,642.09 L1009.28,642.51 L1009.76,642.90 L1010.23,643.25 L1010.71,643.57 L1011.19,643.85 L1011.66,644.09 L1012.14,644.29 L1012.62,644.46 L1013.10,644.59 L1013.57,644.68 L1014.05,644.74 L1014.53,644.76 L1015.00,644.74 L1015.48,644.68 L1015.96,644.59 L1016.43,644.46 L1016.91,644.29 L1017.39,644.09 L1017.87,643.85 L1018.34,643.57 L1018.82,643.25 L1019.30,642.90 L1019.77,642.51 L1020.25,642.09 L1020.73,641.62 L1021.21,641.12 L1021.68,640.59 L1022.16,640.01 L1022.64,639.40 L1023.11,638.76 L1023.59,638.08 L1024.07,637.36 L1024.55,636.60 L1025.02,635.81 L1025.50,634.99 L1025.98,634.13 L1026.45,633.23 L1026.93,632.29 L1027.41,631.33 L1027.88,630.32 L1028.36,629.28 L1028.84,628.21 L1029.32,627.10 L1029.79,625.96 L1030.27,624.78 L1030.75,623.57 L1031.22,622.33 L1031.70,621.05 L1032.18,619.74 L1032.66,618.39 L1033.13,617.01 L1033.61,615.60 L1034.09,614.15 L1034.56,612.68 L1035.04,611.17 L1035.52,609.63 L1036.00,608.05 L1036.47,606.45 L1036.95,604.81 L1037.43,603.14 L1037.90,601.44 L1038.38,599.71 L1038.86,597.95 L1039.33,596.16 L1039.81,594.34 L1040.29,592.49 L1040.77,590.61 L1041.24,588.71 L1041.72,586.77 L1042.20,584.80 L1042.67,582.81 L1043.15,580.79 L1043.63,578.74 L1044.11,576.66 L1044.58,574.56 L1045.06,572.43 L1045.54,570.28 L1046.01,568.09 L1046.49,565.89 L1046.97,563.65 L1047.44,561.40 L1047.92,559.11 L1048.40,556.81 L1048.88,554.48 L1049.35,552.12 L1049.83,549.74 L1050.31,547.34 L1050.78,544.92 L1051.26,542.47 L1051.74,540.01 L1052.22,537.52 L1052.69,535.01 L1053.17,532.48 L1053.65,529.93 L1054.12,527.36 L1054.60,524.77 L1055.08,522.16 L1055.56,519.53 L1056.03,516.89 L1056.51,514.22 L1056.99,511.54 L1057.46,508.84 L1057.94,506.13 L1058.42,503.40 L1058.89,500.65 L1059.37,497.89 L1059.85,495.11 L1060.33,492.32 L1060.80,489.51 L1061.28,486.69 L1061.76,483.86 L1062.23,481.01 L1062.71,478.15 L1063.19,475.28 L1063.67,472.40 L1064.14,469.50 L1064.62,466.60 L1065.10,463.68 L1065.57,460.75 L1066.05,457.82 L1066.53,454.88 L1067.00,451.92 L1067.48,448.96 L1067.96,445.99 L1068.44,443.02 L1068.91,440.04 L1069.39,437.05 L1069.87,434.05 L1070.34,431.05 L1070.82,428.05 L1071.30,425.04 L1071.78,422.02 L1072.25,419.00 L1072.73,415.98 L1073.21,412.96 L1073.68,409.93 L1074.16,406.91 L1074.64,403.88 L1075.12,400.85 L1075.59,397.82 L1076.07,394.79 L1076.55,391.76 L1077.02,388.73 L1077.50,385.70 L1077.98,382.68 L1078.45,379.65 L1078.93,376.63 L1079.41,373.61 L1079.89,370.60 L1080.36,367.59 L1080.84,364.58 L1081.32,361.58 L1081.79,358.59 L1082.27,355.60 L1082.75,352.62 L1083.23,349.64 L1083.70,346.67 L1084.18,343.71 L1084.66,340.76 L1085.13,337.82 L1085.61,334.88 L1086.09,331.96 L1086.57,329.04 L1087.04,326.13 L1087.52,323.24 L1088.00,320.36 L1088.47,317.49 L1088.95,314.63 L1089.43,311.78 L1089.90,308.94 L1090.38,306.12 L1090.86,303.32 L1091.34,300.52 L1091.81,297.75 L1092.29,294.98 L1092.77,292.24 L1093.24,289.51 L1093.72,286.79 L1094.20,284.09 L1094.68,281.41 L1095.15,278.75 L1095.63,276.10 L1096.11,273.47 L1096.58,270.86 L1097.06,268.28 L1097.54,265.70 L1098.01,263.15 L1098.49,260.62 L1098.97,258.12 L1099.45,255.63 L1099.92,253.16 L1100.40,250.72 L1100.88,248.29 L1101.35,245.89 L1101.83,243.51 L1102.31,241.16 L1102.79,238.83 L1103.26,236.52 L1103.74,234.24 L1104.22,231.98 L1104.69,229.75 L1105.17,227.54 L1105.65,225.36 L1106.13,223.20 L1106.60,221.07 L1107.08,218.97 L1107.56,216.90 L1108.03,214.85 L1108.51,212.83 L1108.99,210.83 L1109.46,208.87 L1109.94,206.93 L1110.42,205.02 L1110.90,203.14 L1111.37,201.29 L1111.85,199.47 L1112.33,197.68 L1112.80,195.92 L1113.28,194.19 L1113.76,192.49 L1114.24,190.83 L1114.71,189.19 L1115.19,187.58 L1115.67,186.01 L1116.14,184.47 L1116.62,182.96 L1117.10,181.48 L1117.57,180.04 L1118.05,178.62 L1118.53,177.24 L1119.01,175.90 L1119.48,174.59 L1119.96,173.31 L1120.44,172.06 L1120.91,170.85 L1121.39,169.67 L1121.87,168.53 L1122.35,167.42 L1122.82,166.35 L1123.30,165.31 L1123.78,164.31 L1124.25,163.34 L1124.73,162.41 L1125.21,161.51 L1125.69,160.65 L1126.16,159.82 L1126.64,159.03 L1127.12,158.28 L1127.59,157.56 L1128.07,156.88 L1128.55,156.23 L1129.02,155.62 L1129.50,155.05 L1129.98,154.51 L1130.46,154.01 L1130.93,153.55 L1131.41,153.12 L1131.89,152.73 L1132.36,152.38 L1132.84,152.07 L1133.32,151.79 L1133.80,151.55 L1134.27,151.34 L1134.75,151.17" fill="none" stroke="#ff0000" stroke-width="6.2" stroke-linejoin="round"/>
<path d="M159.61,119.79 L159.85,119.81 L160.32,119.90 L160.80,120.03 L161.28,120.19 L161.76,120.40 L162.23,120.64 L162.71,120.92 L163.19,121.24 L163.66,121.60 L164.14,122.00 L164.62,122.43 L165.09,122.91 L165.57,123.42 L166.05,123.97 L166.53,124.56 L167.00,125.18 L167.48,125.85 L167.96,126.55 L168.43,127.29 L168.91,128.07 L169.39,128.89 L169.87,129.74 L170.34,130.63 L170.82,131.56 L170.95,131.82M177.38,147.99 L177.50,148.35 L177.98,149.82 L178.45,151.32 L178.93,152.85 L179.41,154.42 L179.88,156.02 L180.36,157.65 L180.84,159.32 L181.32,161.02 L181.79,162.75 L182.27,164.52 L182.45,165.21M186.66,182.23 L186.80,182.84 L187.28,184.92 L187.76,187.04 L188.23,189.18 L188.71,191.36 L189.19,193.56 L189.66,195.79 L190.14,198.04 L190.51,199.82M193.96,217.05 L194.20,218.27 L194.67,220.76 L195.15,223.28 L195.63,225.83 L196.10,228.39 L196.58,230.98 L197.06,233.59 L197.27,234.78M200.34,252.10 L200.40,252.46 L200.88,255.23 L201.35,258.02 L201.83,260.83 L202.31,263.66 L202.78,266.50 L203.26,269.36 L203.35,269.90M206.19,287.27 L206.36,288.33 L206.84,291.30 L207.32,294.29 L207.79,297.29 L208.27,300.30 L208.75,303.32 L209.03,305.11M211.74,322.51 L211.85,323.21 L212.33,326.30 L212.80,329.40 L213.28,332.51 L213.76,335.63 L214.23,338.75 L214.48,340.36M217.12,357.77 L217.33,359.16 L217.81,362.32 L218.29,365.47 L218.77,368.63 L219.24,371.79 L219.72,374.95 L219.82,375.64M222.46,393.13 L222.58,393.91 L223.06,397.07 L223.54,400.22 L224.01,403.37 L224.49,406.51 L224.97,409.65 L225.19,411.11M227.87,428.63 L228.07,429.93 L228.55,433.03 L229.02,436.11 L229.50,439.19 L229.98,442.26 L230.45,445.32 L230.65,446.60M233.42,464.10 L233.55,464.93 L234.03,467.90 L234.51,470.86 L234.99,473.81 L235.46,476.74 L235.94,479.66 L236.33,482.05M239.26,499.53 L239.28,499.63 L239.76,502.41 L240.23,505.18 L240.71,507.92 L241.19,510.65 L241.67,513.36 L242.14,516.05 L242.39,517.44M245.60,534.87 L245.72,535.53 L246.20,538.03 L246.67,540.51 L247.15,542.96 L247.63,545.39 L248.11,547.79 L248.58,550.17 L249.06,552.53 L249.10,552.71M252.80,570.04 L252.88,570.40 L253.35,572.51 L253.83,574.59 L254.31,576.64 L254.78,578.66 L255.26,580.66 L255.74,582.62 L256.22,584.55 L256.69,586.45 L257.01,587.72M261.78,604.77 L261.94,605.28 L262.42,606.80 L262.90,608.28 L263.37,609.73 L263.85,611.14 L264.33,612.52 L264.80,613.86 L265.28,615.17 L265.76,616.45 L266.23,617.69 L266.71,618.89 L267.19,620.06 L267.67,621.19 L267.95,621.85M277.62,636.44 L277.68,636.49 L278.16,636.80 L278.64,637.08 L279.12,637.32 L279.59,637.52 L280.07,637.69 L280.55,637.81 L281.02,637.90 L281.50,637.95 L281.98,637.96 L282.46,637.93 L282.93,637.86 L283.41,637.76 L283.89,637.62 L284.36,637.44 L284.84,637.22 L285.32,636.96 L285.79,636.67 L286.27,636.33 L286.75,635.96 L287.23,635.56 L287.70,635.11 L288.18,634.63 L288.66,634.10 L289.13,633.55 L289.61,632.95 L290.09,632.31 L290.57,631.64 L291.04,630.94 L291.52,630.19 L291.85,629.65M299.08,613.53 L299.15,613.34 L299.63,611.98 L300.11,610.60 L300.58,609.17 L301.06,607.72 L301.54,606.23 L302.02,604.71 L302.49,603.16 L302.97,601.57 L303.45,599.95 L303.92,598.30 L304.40,596.61 L304.52,596.20M308.94,579.04 L309.17,578.06 L309.65,576.04 L310.13,574.00 L310.60,571.92 L311.08,569.82 L311.56,567.68 L312.03,565.53 L312.51,563.34 L312.95,561.32M316.52,543.96 L316.57,543.71 L317.04,541.28 L317.52,538.83 L318.00,536.36 L318.47,533.86 L318.95,531.34 L319.43,528.80 L319.91,526.24 L319.93,526.10M323.08,508.66 L323.25,507.74 L323.72,505.02 L324.20,502.28 L324.68,499.53 L325.15,496.75 L325.63,493.96 L326.11,491.16 L326.18,490.75M329.09,473.26 L329.21,472.55 L329.69,469.64 L330.16,466.71 L330.64,463.77 L331.12,460.82 L331.59,457.86 L332.00,455.32M334.78,437.81 L334.93,436.85 L335.41,433.81 L335.89,430.77 L336.36,427.72 L336.84,424.66 L337.32,421.60 L337.59,419.85M340.30,402.33 L340.42,401.59 L340.90,398.50 L341.37,395.40 L341.85,392.31 L342.33,389.21 L342.81,386.12 L343.08,384.36M345.78,366.83 L345.91,366.01 L346.38,362.93 L346.86,359.85 L347.34,356.77 L347.81,353.70 L348.29,350.63 L348.57,348.85M351.31,331.33 L351.39,330.84 L351.87,327.82 L352.35,324.82 L352.82,321.82 L353.30,318.83 L353.78,315.85 L354.18,313.37M357.03,295.87 L357.12,295.32 L357.59,292.44 L358.07,289.58 L358.55,286.72 L359.03,283.89 L359.50,281.06 L359.98,278.26 L360.04,277.92M363.08,260.45 L363.08,260.43 L363.56,257.76 L364.03,255.11 L364.51,252.47 L364.99,249.86 L365.47,247.27 L365.94,244.69 L366.34,242.56M369.71,225.15 L369.76,224.92 L370.24,222.55 L370.71,220.21 L371.19,217.89 L371.67,215.60 L372.15,213.34 L372.62,211.10 L373.10,208.88 L373.44,207.34M377.43,190.07 L377.63,189.25 L378.11,187.34 L378.59,185.45 L379.06,183.60 L379.54,181.78 L380.02,179.98 L380.49,178.22 L380.97,176.49 L381.45,174.80 L381.93,173.13 L382.11,172.49M387.67,155.67 L387.89,155.11 L388.37,153.90 L388.84,152.73 L389.32,151.59 L389.80,150.48 L390.27,149.42 L390.75,148.38 L391.23,147.39 L391.71,146.43 L392.18,145.51 L392.66,144.62 L393.14,143.77 L393.61,142.96 L394.09,142.18 L394.57,141.44 L395.04,140.74 L395.52,140.07 L395.93,139.54M410.53,138.51 L410.55,138.53 L411.03,139.10 L411.50,139.70 L411.98,140.34 L412.46,141.02 L412.94,141.74 L413.41,142.49 L413.89,143.28 L414.37,144.11 L414.84,144.97 L415.32,145.87 L415.80,146.81 L416.27,147.78 L416.75,148.79 L417.23,149.83 L417.71,150.91 L418.18,152.03 L418.66,153.18 L419.14,154.37 L419.16,154.42M424.84,171.21 L424.86,171.28 L425.34,172.91 L425.82,174.57 L426.29,176.26 L426.77,177.98 L427.25,179.74 L427.72,181.52 L428.20,183.34 L428.68,185.18 L429.16,187.06 L429.58,188.77M433.62,206.03 L433.69,206.36 L434.16,208.54 L434.64,210.75 L435.12,212.98 L435.60,215.24 L436.07,217.52 L436.55,219.83 L437.03,222.17 L437.36,223.83M440.75,241.24 L440.84,241.72 L441.32,244.26 L441.80,246.83 L442.28,249.42 L442.75,252.03 L443.23,254.66 L443.71,257.31 L444.03,259.13M447.08,276.60 L447.28,277.78 L447.76,280.58 L448.24,283.40 L448.72,286.23 L449.19,289.08 L449.67,291.95 L450.10,294.54M452.95,312.04 L453.01,312.38 L453.49,315.35 L453.96,318.32 L454.44,321.31 L454.92,324.31 L455.39,327.32 L455.82,330.01M458.57,347.53 L458.73,348.60 L459.21,351.67 L459.69,354.74 L460.17,357.82 L460.64,360.90 L461.12,363.99 L461.35,365.50M464.05,383.03 L464.22,384.12 L464.70,387.22 L465.17,390.32 L465.65,393.42 L466.13,396.52 L466.61,399.62 L466.81,400.96M469.51,418.41 L469.71,419.70 L470.18,422.77 L470.66,425.84 L471.14,428.90 L471.62,431.96 L472.09,435.01 L472.30,436.31M475.05,453.75 L475.19,454.64 L475.67,457.63 L476.15,460.60 L476.62,463.57 L477.10,466.52 L477.58,469.46 L477.93,471.63M480.81,489.05 L480.92,489.68 L481.40,492.51 L481.87,495.33 L482.35,498.13 L482.83,500.91 L483.30,503.67 L483.78,506.42 L483.86,506.90M486.96,524.27 L487.12,525.14 L487.60,527.73 L488.07,530.30 L488.55,532.86 L489.03,535.39 L489.51,537.90 L489.98,540.38 L490.31,542.06M493.78,559.35 L493.80,559.42 L494.28,561.68 L494.75,563.92 L495.23,566.14 L495.71,568.33 L496.18,570.49 L496.66,572.62 L497.14,574.73 L497.62,576.81 L497.66,577.01M501.88,594.11 L501.91,594.21 L502.39,595.99 L502.86,597.74 L503.34,599.46 L503.82,601.15 L504.29,602.81 L504.77,604.43 L505.25,606.02 L505.73,607.58 L506.20,609.11 L506.68,610.60 L506.95,611.42M513.28,627.78 L513.36,627.94 L513.84,628.91 L514.31,629.85 L514.79,630.75 L515.27,631.62 L515.74,632.45 L516.22,633.25 L516.70,634.00 L517.18,634.73 L517.65,635.41 L518.13,636.06 L518.61,636.67 L519.08,637.24 L519.56,637.78 L520.04,638.28 L520.52,638.74 L520.99,639.16 L521.47,639.55 L521.95,639.90 L522.42,640.21 L522.90,640.49 L523.38,640.72 L523.86,640.92 L524.33,641.09 L524.46,641.12M537.24,631.28 L537.45,630.89 L537.93,630.00 L538.41,629.07 L538.88,628.10 L539.36,627.10 L539.84,626.06 L540.31,624.99 L540.79,623.89 L541.27,622.74 L541.75,621.57 L542.22,620.36 L542.70,619.11 L543.18,617.83 L543.65,616.52 L544.13,615.18 L544.28,614.75M549.45,597.95 L549.62,597.35 L550.09,595.60 L550.57,593.82 L551.05,592.02 L551.53,590.18 L552.00,588.31 L552.48,586.41 L552.96,584.49 L553.43,582.53 L553.91,580.55 L553.94,580.45M557.82,563.26 L557.97,562.60 L558.44,560.36 L558.92,558.10 L559.40,555.82 L559.87,553.50 L560.35,551.17 L560.83,548.81 L561.31,546.43 L561.48,545.54M564.82,528.22 L564.88,527.87 L565.36,525.31 L565.84,522.73 L566.31,520.13 L566.79,517.50 L567.27,514.87 L567.75,512.21 L568.07,510.42M571.10,493.03 L571.32,491.75 L571.80,488.95 L572.28,486.15 L572.76,483.32 L573.23,480.49 L573.71,477.64 L574.12,475.18M576.99,457.76 L577.05,457.39 L577.53,454.46 L578.00,451.51 L578.48,448.56 L578.96,445.60 L579.43,442.64 L579.88,439.88M582.66,422.44 L582.77,421.70 L583.25,418.69 L583.73,415.68 L584.21,412.67 L584.68,409.65 L585.16,406.63 L585.49,404.55M588.24,387.08 L588.26,386.98 L588.74,383.96 L589.21,380.94 L589.69,377.92 L590.17,374.91 L590.65,371.90 L591.09,369.12M593.88,351.61 L593.99,350.96 L594.46,347.99 L594.94,345.03 L595.42,342.08 L595.89,339.14 L596.37,336.20 L596.78,333.66M599.67,316.17 L599.71,315.93 L600.19,313.08 L600.66,310.25 L601.14,307.42 L601.62,304.61 L602.10,301.82 L602.57,299.03 L602.71,298.24M605.77,280.78 L605.91,280.00 L606.39,277.34 L606.87,274.71 L607.34,272.09 L607.82,269.50 L608.30,266.92 L608.77,264.36 L609.05,262.90M612.42,245.50 L612.59,244.65 L613.07,242.29 L613.55,239.94 L614.02,237.63 L614.50,235.33 L614.98,233.07 L615.45,230.82 L615.93,228.60 L616.13,227.70M620.08,210.42 L620.22,209.82 L620.70,207.87 L621.18,205.95 L621.66,204.05 L622.13,202.19 L622.61,200.36 L623.09,198.55 L623.56,196.78 L624.04,195.03 L624.52,193.32 L624.66,192.83M629.98,175.94 L630.00,175.89 L630.48,174.57 L630.96,173.30 L631.44,172.05 L631.91,170.84 L632.39,169.66 L632.87,168.52 L633.34,167.41 L633.82,166.34 L634.30,165.30 L634.78,164.30 L635.25,163.33 L635.73,162.40 L636.21,161.50 L636.68,160.64 L637.16,159.81 L637.41,159.40M651.24,151.90 L651.47,152.04 L651.95,152.36 L652.43,152.71 L652.90,153.10 L653.38,153.53 L653.86,153.99 L654.34,154.49 L654.81,155.03 L655.29,155.60 L655.77,156.21 L656.24,156.86 L656.72,157.54 L657.20,158.26 L657.67,159.01 L658.15,159.81 L658.63,160.63 L659.11,161.50 L659.58,162.39 L660.06,163.33 L660.54,164.30 L661.01,165.30 L661.49,166.34 L661.57,166.52M667.74,183.11 L667.93,183.72 L668.41,185.25 L668.89,186.81 L669.36,188.40 L669.84,190.03 L670.32,191.68 L670.79,193.37 L671.27,195.08 L671.75,196.83 L672.23,198.61 L672.70,200.42 L672.75,200.58M676.95,217.80 L677.00,217.99 L677.47,220.09 L677.95,222.21 L678.43,224.35 L678.90,226.52 L679.38,228.72 L679.86,230.95 L680.34,233.19 L680.81,235.47 L680.83,235.56M684.32,252.93 L684.39,253.28 L684.87,255.75 L685.34,258.24 L685.82,260.75 L686.30,263.28 L686.78,265.84 L687.25,268.41 L687.69,270.80M690.82,288.25 L690.83,288.31 L691.31,291.04 L691.79,293.79 L692.26,296.55 L692.74,299.32 L693.22,302.11 L693.69,304.91 L693.91,306.17M696.83,323.65 L697.03,324.91 L697.51,327.82 L697.99,330.73 L698.46,333.66 L698.94,336.60 L699.42,339.54 L699.75,341.60M702.56,359.11 L702.76,360.38 L703.24,363.38 L703.71,366.39 L704.19,369.41 L704.67,372.42 L705.14,375.45 L705.40,377.07M708.15,394.58 L708.24,395.16 L708.72,398.19 L709.20,401.23 L709.68,404.27 L710.15,407.31 L710.63,410.34 L710.98,412.55M713.74,430.08 L713.97,431.52 L714.45,434.52 L714.92,437.53 L715.40,440.53 L715.88,443.52 L716.35,446.50 L716.60,448.05M719.43,465.56 L719.46,465.71 L719.93,468.64 L720.41,471.55 L720.89,474.45 L721.36,477.34 L721.84,480.21 L722.32,483.08 L722.39,483.52M725.36,501.01 L725.42,501.38 L725.90,504.14 L726.37,506.88 L726.85,509.61 L727.33,512.32 L727.80,515.02 L728.28,517.70 L728.50,518.94M731.71,536.39 L731.86,537.20 L732.34,539.71 L732.81,542.21 L733.29,544.68 L733.77,547.13 L734.25,549.56 L734.72,551.97 L735.18,554.25M738.81,571.62 L739.02,572.57 L739.49,574.74 L739.97,576.87 L740.45,578.99 L740.92,581.07 L741.40,583.13 L741.88,585.16 L742.36,587.16 L742.83,589.14 L742.89,589.35M747.38,606.51 L747.60,607.29 L748.08,608.94 L748.56,610.55 L749.03,612.14 L749.51,613.70 L749.99,615.22 L750.47,616.71 L750.94,618.17 L751.42,619.60 L751.90,620.99 L752.37,622.35 L752.85,623.68 L752.91,623.85M760.29,639.95 L760.48,640.27 L760.96,641.01 L761.44,641.71 L761.92,642.38 L762.39,643.01 L762.87,643.60 L763.35,644.16 L763.82,644.68 L764.30,645.17 L764.78,645.62 L765.26,646.03 L765.73,646.41 L766.21,646.75 L766.69,647.05 L767.16,647.32 L767.64,647.55 L768.12,647.74 L768.59,647.90 L769.07,648.02 L769.55,648.10 L770.03,648.15 L770.50,648.16 L770.98,648.13 L771.46,648.07 L771.93,647.97 L772.41,647.83 L772.89,647.65 L773.37,647.44 L773.84,647.19 L774.32,646.91 L774.70,646.65M784.55,632.12 L784.58,632.07 L785.05,630.98 L785.53,629.86 L786.01,628.71 L786.48,627.52 L786.96,626.30 L787.44,625.04 L787.92,623.76 L788.39,622.43 L788.87,621.08 L789.35,619.69 L789.82,618.27 L790.30,616.82 L790.78,615.34 L790.87,615.07M795.76,598.01 L795.79,597.90 L796.26,596.07 L796.74,594.21 L797.22,592.32 L797.70,590.40 L798.17,588.45 L798.65,586.48 L799.13,584.48 L799.60,582.45 L800.08,580.39 L800.09,580.34M803.90,563.01 L804.14,561.89 L804.61,559.60 L805.09,557.28 L805.57,554.95 L806.04,552.58 L806.52,550.20 L807.00,547.80 L807.48,545.37 L807.51,545.18M810.83,527.75 L811.05,526.52 L811.53,523.93 L812.01,521.32 L812.49,518.69 L812.96,516.04 L813.44,513.38 L813.92,510.70 L814.07,509.84M817.11,492.36 L817.26,491.53 L817.73,488.73 L818.21,485.93 L818.69,483.11 L819.16,480.28 L819.64,477.43 L820.12,474.58 L820.15,474.42M823.04,456.91 L823.22,455.81 L823.70,452.89 L824.17,449.96 L824.65,447.03 L825.13,444.09 L825.61,441.14 L825.96,438.95M828.78,421.44 L828.94,420.40 L829.42,417.42 L829.90,414.45 L830.38,411.47 L830.85,408.49 L831.33,405.51 L831.66,403.45M834.48,385.84 L834.67,384.68 L835.15,381.71 L835.62,378.75 L836.10,375.79 L836.58,372.84 L837.05,369.89 L837.40,367.77M840.27,350.16 L840.39,349.42 L840.87,346.53 L841.35,343.64 L841.83,340.77 L842.30,337.90 L842.78,335.05 L843.26,332.21 L843.27,332.10M846.27,314.51 L846.36,314.02 L846.83,311.27 L847.31,308.53 L847.79,305.81 L848.27,303.11 L848.74,300.42 L849.22,297.74 L849.45,296.48M852.67,278.92 L852.80,278.25 L853.28,275.72 L853.75,273.22 L854.23,270.74 L854.71,268.28 L855.18,265.84 L855.66,263.42 L856.14,261.03 L856.16,260.93M859.79,243.43 L859.95,242.67 L860.43,240.48 L860.91,238.32 L861.39,236.19 L861.86,234.08 L862.34,231.99 L862.82,229.93 L863.29,227.90 L863.77,225.90 L863.86,225.55M868.32,208.22 L868.54,207.41 L869.02,205.72 L869.50,204.07 L869.97,202.44 L870.45,200.84 L870.93,199.28 L871.40,197.75 L871.88,196.24 L872.36,194.77 L872.84,193.34 L873.31,191.93 L873.76,190.65M880.86,174.15 L880.95,174.00 L881.42,173.17 L881.90,172.38 L882.38,171.62 L882.85,170.90 L883.33,170.22 L883.81,169.57 L884.29,168.95 L884.76,168.37 L885.24,167.83 L885.72,167.33 L886.19,166.86 L886.67,166.43 L887.15,166.03 L887.62,165.67 L888.10,165.35 L888.58,165.06 L889.06,164.81 L889.53,164.60 L890.01,164.42 L890.49,164.28 L890.96,164.18 L891.44,164.11 L891.92,164.08 L892.40,164.09 L892.87,164.13 L893.35,164.22 L893.83,164.33 L894.30,164.49 L894.78,164.68 L894.94,164.75M905.70,178.94 L905.75,179.06 L906.23,180.11 L906.71,181.19 L907.18,182.31 L907.66,183.46 L908.14,184.65 L908.62,185.87 L909.09,187.12 L909.57,188.41 L910.05,189.73 L910.52,191.08 L911.00,192.46 L911.48,193.88 L911.96,195.33 L912.23,196.17M917.21,213.37 L917.44,214.23 L917.92,216.07 L918.40,217.93 L918.87,219.82 L919.35,221.73 L919.83,223.68 L920.30,225.65 L920.78,227.65 L921.26,229.68 L921.61,231.19M925.46,248.65 L925.55,249.10 L926.03,251.38 L926.51,253.68 L926.98,256.01 L927.46,258.36 L927.94,260.73 L928.41,263.13 L928.89,265.55 L929.10,266.61M932.44,284.15 L932.47,284.33 L932.95,286.92 L933.42,289.52 L933.90,292.14 L934.38,294.78 L934.86,297.44 L935.33,300.11 L935.70,302.18M938.76,319.76 L938.91,320.65 L939.39,323.45 L939.86,326.26 L940.34,329.09 L940.82,331.92 L941.30,334.77 L941.77,337.62 L941.80,337.81M944.71,355.42 L944.87,356.43 L945.35,359.36 L945.83,362.29 L946.30,365.23 L946.78,368.18 L947.26,371.13 L947.64,373.48M950.47,391.10 L950.60,391.92 L951.08,394.91 L951.55,397.89 L952.03,400.88 L952.51,403.87 L952.98,406.86 L953.35,409.17M956.16,426.74 L956.32,427.76 L956.80,430.73 L957.28,433.71 L957.75,436.68 L958.23,439.64 L958.71,442.60 L959.06,444.76M961.91,462.32 L962.05,463.16 L962.53,466.07 L963.00,468.97 L963.48,471.86 L963.96,474.74 L964.43,477.61 L964.89,480.33M967.86,497.87 L968.01,498.77 L968.49,501.54 L968.97,504.30 L969.44,507.04 L969.92,509.76 L970.40,512.47 L970.87,515.16 L971.00,515.86M974.18,533.37 L974.21,533.55 L974.69,536.11 L975.17,538.64 L975.65,541.16 L976.12,543.66 L976.60,546.13 L977.08,548.59 L977.55,551.02 L977.61,551.31M981.17,568.75 L981.37,569.71 L981.85,571.94 L982.32,574.14 L982.80,576.32 L983.28,578.48 L983.76,580.61 L984.23,582.72 L984.71,584.80 L985.13,586.59M989.42,603.88 L989.48,604.09 L989.96,605.87 L990.43,607.61 L990.91,609.32 L991.39,611.01 L991.87,612.66 L992.34,614.29 L992.82,615.88 L993.30,617.44 L993.77,618.98 L994.25,620.48 L994.56,621.43M1000.94,638.10 L1001.17,638.58 L1001.65,639.57 L1002.12,640.53 L1002.60,641.45 L1003.08,642.33 L1003.55,643.19 L1004.03,644.00 L1004.51,644.78 L1004.99,645.53 L1005.46,646.24 L1005.94,646.92 L1006.42,647.56 L1006.89,648.16 L1007.37,648.73 L1007.85,649.27 L1008.32,649.77 L1008.80,650.23 L1009.28,650.66 L1009.76,651.05 L1010.23,651.40 L1010.71,651.72 L1011.19,652.01 L1011.66,652.25 L1011.98,652.39M1025.70,643.44 L1025.74,643.37 L1026.22,642.53 L1026.69,641.65 L1027.17,640.74 L1027.65,639.80 L1028.12,638.82 L1028.60,637.81 L1029.08,636.77 L1029.55,635.69 L1030.03,634.58 L1030.51,633.43 L1030.99,632.25 L1031.46,631.04 L1031.94,629.80 L1032.42,628.52 L1032.89,627.21 L1033.08,626.69M1038.45,609.68 L1038.62,609.09 L1039.10,607.38 L1039.57,605.64 L1040.05,603.88 L1040.53,602.09 L1041.00,600.27 L1041.48,598.42 L1041.96,596.54 L1042.44,594.64 L1042.91,592.71 L1043.09,591.99M1047.10,574.64 L1047.21,574.17 L1047.68,571.99 L1048.16,569.78 L1048.64,567.55 L1049.11,565.30 L1049.59,563.03 L1050.07,560.73 L1050.55,558.41 L1050.88,556.77M1054.33,539.30 L1054.36,539.12 L1054.84,536.62 L1055.32,534.10 L1055.79,531.56 L1056.27,529.01 L1056.75,526.44 L1057.22,523.86 L1057.68,521.35M1060.83,503.84 L1061.04,502.63 L1061.52,499.91 L1062.00,497.18 L1062.47,494.44 L1062.95,491.69 L1063.43,488.92 L1063.90,486.15 L1063.95,485.85M1066.93,468.31 L1067.00,467.87 L1067.48,465.03 L1067.96,462.18 L1068.44,459.32 L1068.91,456.46 L1069.39,453.59 L1069.87,450.72 L1069.94,450.30M1072.83,432.75 L1072.97,431.93 L1073.45,429.02 L1073.92,426.12 L1074.40,423.22 L1074.88,420.31 L1075.35,417.40 L1075.79,414.74M1078.67,397.24 L1078.69,397.09 L1079.17,394.19 L1079.65,391.30 L1080.12,388.41 L1080.60,385.53 L1081.08,382.66 L1081.56,379.78 L1081.64,379.30M1084.57,361.81 L1084.66,361.28 L1085.13,358.46 L1085.61,355.65 L1086.09,352.85 L1086.57,350.06 L1087.04,347.28 L1087.52,344.51 L1087.63,343.88M1090.69,326.42 L1090.86,325.45 L1091.34,322.78 L1091.81,320.13 L1092.29,317.49 L1092.77,314.86 L1093.24,312.25 L1093.72,309.66 L1093.93,308.52M1097.23,291.10 L1097.30,290.75 L1097.78,288.31 L1098.25,285.89 L1098.73,283.49 L1099.21,281.10 L1099.68,278.74 L1100.16,276.40 L1100.64,274.08 L1100.81,273.27M1104.54,255.94 L1104.69,255.27 L1105.17,253.17 L1105.65,251.10 L1106.13,249.05 L1106.60,247.02 L1107.08,245.02 L1107.56,243.05 L1108.03,241.11 L1108.51,239.19 L1108.75,238.25M1113.39,221.14 L1113.52,220.72 L1114.00,219.12 L1114.47,217.56 L1114.95,216.03 L1115.43,214.53 L1115.91,213.06 L1116.38,211.62 L1116.86,210.21 L1117.34,208.83 L1117.81,207.49 L1118.29,206.17 L1118.77,204.89 L1119.14,203.90M1126.96,188.05 L1127.12,187.82 L1127.59,187.16 L1128.07,186.53 L1128.55,185.94 L1129.02,185.38 L1129.50,184.86 L1129.98,184.38 L1130.46,183.93 L1130.93,183.51 L1131.41,183.14 L1131.89,182.79 L1132.36,182.48 L1132.84,182.21 L1133.32,181.97 L1133.80,181.77 L1134.27,181.61 L1134.75,181.48" fill="none" stroke="#0000ff" stroke-width="6.0" stroke-linejoin="round"/>
<line x1="587" y1="70.7" x2="677" y2="70.7" stroke="#ff0000" stroke-width="6.2"/>
<line x1="587" y1="118" x2="677" y2="118" stroke="#0000ff" stroke-width="6.0" stroke-dasharray="17.15 18.8"/>
<g class="lg" font-size="37.7">
<text x="683.5" y="85">Uniform brightness</text>
<text x="683.5" y="134" clip-path="url(#lgclip)">Nonuniform brightness</text>
</g>
</g>
</svg>
</body></html>
